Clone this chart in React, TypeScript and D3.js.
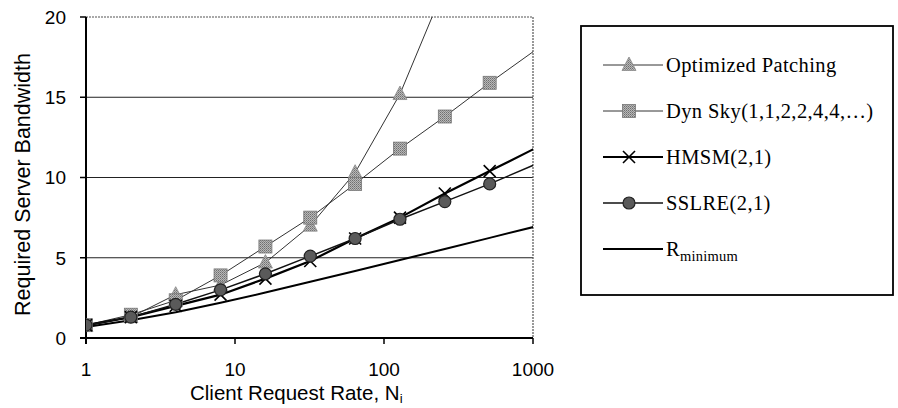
import React from 'react';
import * as d3 from 'd3';

// ---- data ----
const nValues = [1, 2, 4, 8, 16, 32, 64, 128, 256, 512, 1024];
const optimizedPatching = [0.75, 1.3, 2.7, 3.3, 4.7, 7.0, 10.3, 15.2, 21.9];
const dynSky = [0.8, 1.45, 2.35, 3.9, 5.7, 7.5, 9.6, 11.8, 13.8, 15.9, 17.9];
const hmsm = [0.8, 1.3, 2.0, 2.7, 3.7, 4.8, 6.2, 7.5, 9.0, 10.4, 11.8];
const sslre = [0.8, 1.3, 2.1, 3.0, 4.0, 5.1, 6.2, 7.4, 8.5, 9.6, 10.8];
const rMinimum = [0.69, 1.1, 1.61, 2.2, 2.83, 3.5, 4.17, 4.86, 5.55, 6.24, 6.93];
const xTicks = [1, 10, 100, 1000];
const yTicks = [0, 5, 10, 15, 20];
const seriesNames = ['Optimized Patching', 'Dyn Sky(1,1,2,2,4,4,…)', 'HMSM(2,1)', 'SSLRE(2,1)', 'R'];

const W = 898;
const H = 408;
const M = { left: 86, right: 533, top: 17, bottom: 338 };

type Kind = 'tri' | 'sq' | 'x' | 'dot' | 'none';

function Marker({ kind, cx, cy }: { kind: Kind; cx: number; cy: number }) {
  if (kind === 'tri')
    return (
      <polygon
        points={`${cx},${cy - 8} ${cx - 7},${cy + 5.5} ${cx + 7},${cy + 5.5}`}
        fill="url(#dither)"
        stroke="#8a8a8a"
        strokeWidth={0.8}
      />
    );
  if (kind === 'sq')
    return <rect x={cx - 6.5} y={cy - 6.5} width={13} height={13} fill="url(#dither)" stroke="#777" strokeWidth={0.8} />;
  if (kind === 'x')
    return (
      <g stroke="#000" strokeWidth={1.6}>
        <line x1={cx - 6} y1={cy - 6} x2={cx + 6} y2={cy + 6} />
        <line x1={cx - 6} y1={cy + 6} x2={cx + 6} y2={cy - 6} />
      </g>
    );
  if (kind === 'dot') return <circle cx={cx} cy={cy} r={6} fill="#5a5a5a" stroke="#222" strokeWidth={1.2} />;
  return null;
}

export default function App() {
  const x = d3.scaleLog().domain([1, 1000]).range([M.left, M.right]);
  const y = d3.scaleLinear().domain([0, 20]).range([M.bottom, M.top]);

  const series: { name: string; values: number[]; kind: Kind; stroke: string; width: number }[] = [
    { name: seriesNames[0], values: optimizedPatching, kind: 'tri', stroke: '#333', width: 1 },
    { name: seriesNames[1], values: dynSky, kind: 'sq', stroke: '#333', width: 1 },
    { name: seriesNames[2], values: hmsm, kind: 'x', stroke: '#000', width: 2.2 },
    { name: seriesNames[3], values: sslre, kind: 'dot', stroke: '#111', width: 1.5 },
    { name: seriesNames[4], values: rMinimum, kind: 'none', stroke: '#000', width: 2 },
  ];

  const line = d3
    .line<[number, number]>()
    .x((d) => x(d[0]))
    .y((d) => y(d[1]));

  const legendX = 581;
  const legendTop = 26;
  const legendBottom = 295;
  const legendRight = 893;

  return (
    <svg width={W} height={H} style={{ position: 'absolute', left: 0, top: 0, background: '#fff' }}>
      <defs>
        <clipPath id="plotClip">
          <rect x={M.left} y={M.top} width={M.right - M.left} height={M.bottom - M.top} />
        </clipPath>
        <pattern id="dither" width={2} height={2} patternUnits="userSpaceOnUse">
          <rect width={2} height={2} fill="#b8b8b8" />
          <rect width={1} height={1} fill="#6f6f6f" />
          <rect x={1} y={1} width={1} height={1} fill="#8a8a8a" />
        </pattern>
      </defs>

      {/* gridlines */}
      {yTicks
        .filter((t) => t > 0 && t < 20)
        .map((t) => (
          <line key={t} x1={M.left} x2={M.right} y1={y(t)} y2={y(t)} stroke="#222" strokeWidth={1} />
        ))}
      {/* plot border top/right */}
      <line x1={M.left} x2={M.right} y1={y(20)} y2={y(20)} stroke="#555" strokeWidth={1.2} strokeDasharray="2 1" />
      <line x1={M.right} x2={M.right} y1={M.top} y2={M.bottom} stroke="#555" strokeWidth={1.2} strokeDasharray="2 1" />

      {/* axes */}
      <line x1={M.left} x2={M.left} y1={M.top} y2={M.bottom + 6} stroke="#000" strokeWidth={2} />
      <line x1={M.left - 6} x2={M.right} y1={M.bottom} y2={M.bottom} stroke="#000" strokeWidth={2} />
      {yTicks.map((t) => (
        <g key={t}>
          <line x1={M.left - 6} x2={M.left} y1={y(t)} y2={y(t)} stroke="#000" strokeWidth={1.5} />
          <text
            x={M.left - 20}
            y={y(t)}
            dy="0.36em"
            textAnchor="end"
            fontFamily="Liberation Sans, Arial, sans-serif"
            fontSize={19}
            fill="#000"
          >
            {t}
          </text>
        </g>
      ))}
      {xTicks.map((t) => (
        <g key={t}>
          <line x1={x(t)} x2={x(t)} y1={M.bottom} y2={M.bottom + 6} stroke="#000" strokeWidth={1.5} />
          <text
            x={x(t)}
            y={376}
            textAnchor="middle"
            fontFamily="Liberation Sans, Arial, sans-serif"
            fontSize={19}
            fill="#000"
          >
            {t}
          </text>
        </g>
      ))}

      {/* axis titles */}
      <text x={190} y={400} fontFamily="Liberation Sans, Arial, sans-serif" fontSize={20.5} fill="#000">
        Client Request Rate, N
        <tspan fontSize={13} dy={3}>
          i
        </tspan>
      </text>
      <text
        transform={`translate(30,${(47 + 322) / 2}) rotate(-90)`}
        textAnchor="middle"
        fontFamily="Liberation Sans, Arial, sans-serif"
        fontSize={21.5}
        fill="#000"
      >
        Required Server Bandwidth
      </text>

      {/* series */}
      <g clipPath="url(#plotClip)">
        {series.map((s) => {
          const pts: [number, number][] = s.values.map((v, i) => [nValues[i], v]);
          return <path key={s.name} d={line(pts) || ''} fill="none" stroke={s.stroke} strokeWidth={s.width} />;
        })}
        {series.map((s) =>
          s.values.map((v, i) =>
            nValues[i] <= 1000 && v <= 20 ? (
              <Marker key={s.name + i} kind={s.kind} cx={x(nValues[i])} cy={y(v)} />
            ) : null
          )
        )}
      </g>

      {/* legend */}
      <rect
        x={legendX}
        y={legendTop}
        width={legendRight - legendX}
        height={legendBottom - legendTop}
        fill="#fff"
        stroke="#000"
        strokeWidth={1.8}
      />
      {series.map((s, i) => {
        const cy = 65 + i * 46;
        return (
          <g key={s.name}>
            <line x1={603} x2={663} y1={cy} y2={cy} stroke={s.stroke} strokeWidth={s.width} />
            <Marker kind={s.kind} cx={629} cy={cy} />
            <text
              x={666}
              y={cy}
              dy="0.35em"
              fontFamily="Liberation Serif, Times New Roman, serif"
              fontSize={20.5}
              fill="#000"
              letterSpacing={0.4}
            >
              {s.name}
              {s.kind === 'none' ? (
                <tspan fontSize={14.5} dy={5} letterSpacing={0.2}>
                  minimum
                </tspan>
              ) : null}
            </text>
          </g>
        );
      })}
    </svg>
  );
}
